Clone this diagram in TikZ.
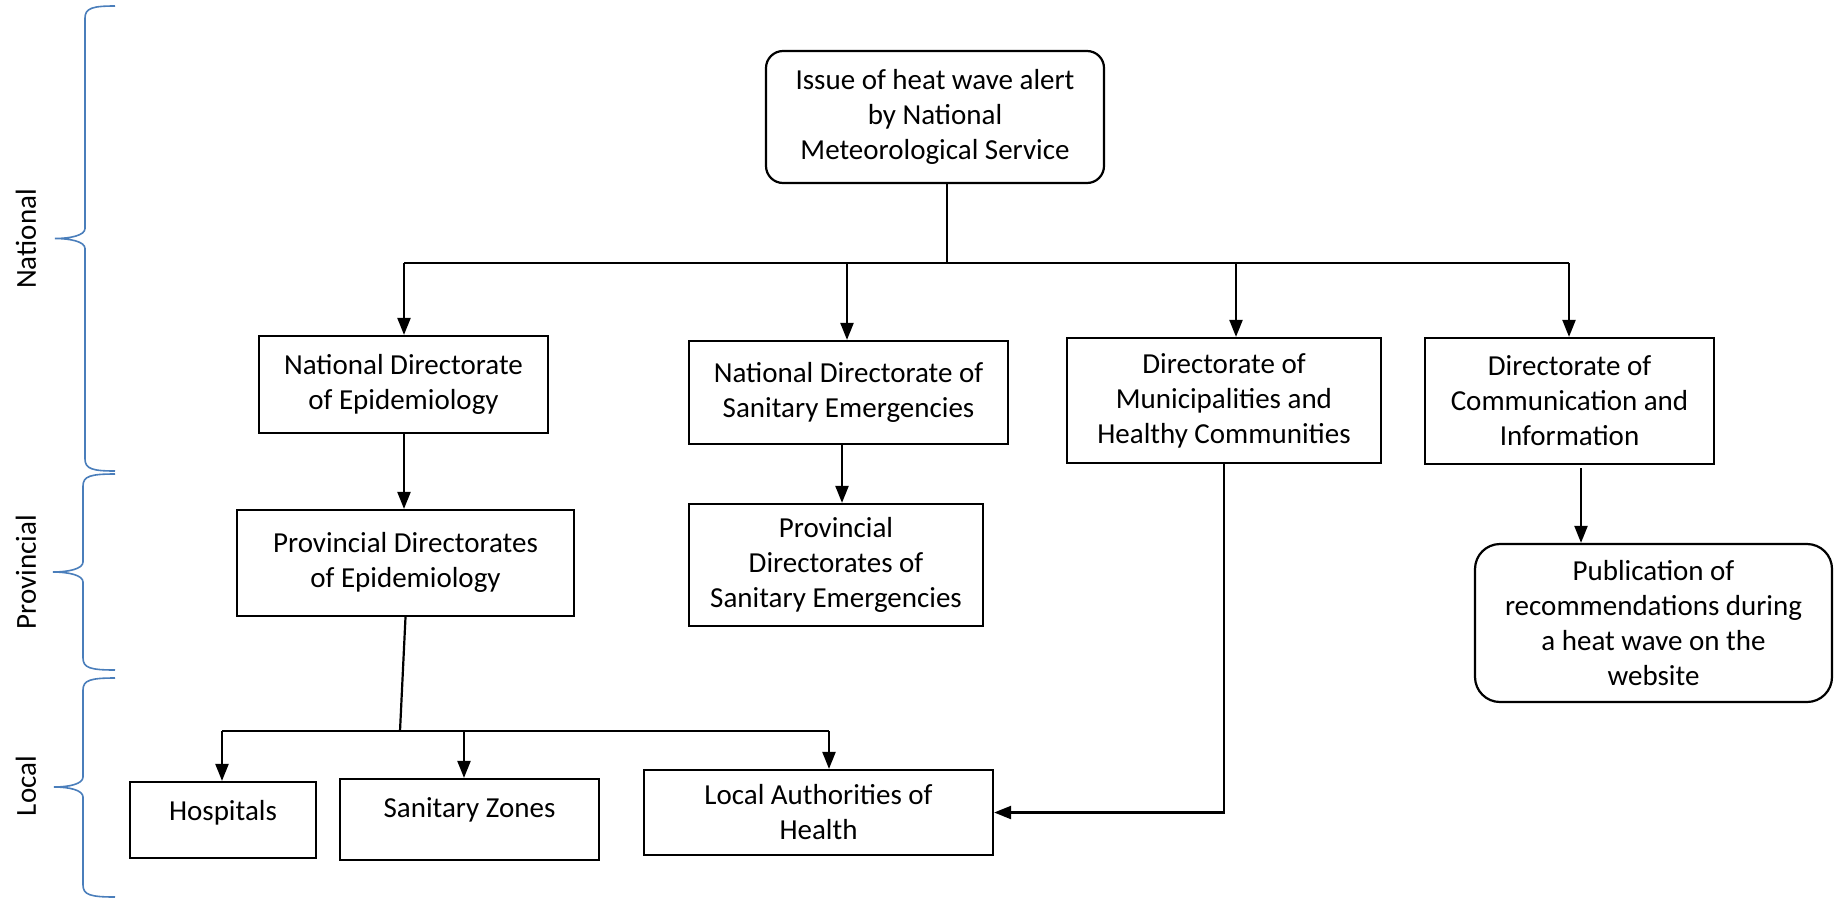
\documentclass[tikz,border=0pt]{standalone}
\usepackage{fontspec}
\setmainfont{Carlito}
\usetikzlibrary{arrows.meta}
\definecolor{braceblue}{RGB}{74,126,187}
\newcommand{\lvlbrace}[5]{%
  \draw[bracepath] (115,#3) .. controls (#1+8,#3) and (#1,#3+2) .. (#1,#3+12)
    -- (#1,#4-10) .. controls (#1,#4-3) and (#2+15,#4) .. (#2,#4)
    .. controls (#2+15,#4) and (#1,#4+3) .. (#1,#4+10)
    -- (#1,#5-12) .. controls (#1,#5-2) and (#1+8,#5) .. (115,#5);}
\begin{document}
\begin{tikzpicture}[x=0.5pt,y=-0.5pt,
  every node/.style={font=\fontsize{14.5}{17.5}\selectfont},
  box/.style={draw, line width=1.1pt, align=center, inner sep=0pt},
  rbox/.style={box, rounded corners=8.5pt},
  conn/.style={line width=1.1pt},
  arr/.style={conn, -{Triangle[length=8.5pt,width=6.5pt]}},
  bracepath/.style={draw=braceblue, line width=0.8pt},
  lvl/.style={rotate=90}]
\useasboundingbox (0,0) rectangle (1835,900);

% level braces and labels
\lvlbrace{85}{55}{6}{238.5}{471}
\lvlbrace{83}{53}{474}{572}{670}
\lvlbrace{83}{54}{678}{787}{897}
\node[lvl] (lnat) at (26,239) {National};
\node[lvl] (lprov) at (26,572) {Provincial};
\node[lvl] (lloc) at (26,786) {Local};

% boxes
\node[rbox, minimum width=169pt, minimum height=66pt] (alert) at (935,117) {Issue of heat wave alert\\by National\\Meteorological Service};
\node[box, minimum width=144.5pt, minimum height=48.5pt] (nde) at (403.5,384.5) {National Directorate\\of Epidemiology};
\node[box, minimum width=159.5pt, minimum height=51.5pt] (ndse) at (848.5,392.5) {National Directorate of\\Sanitary Emergencies};
\node[box, minimum width=157pt, minimum height=62.5pt] (dmhc) at (1224,400.5) {Directorate of\\Municipalities and\\Healthy Communities};
\node[box, minimum width=144.5pt, minimum height=63pt] (dci) at (1569.5,401) {Directorate of\\Communication and\\Information};
\node[box, minimum width=168.5pt, minimum height=53pt] (pde) at (405.5,563) {Provincial Directorates\\of Epidemiology\rule[-3pt]{0pt}{0pt}};
\node[box, minimum width=147pt, minimum height=61pt] (psde) at (836,565) {Provincial\\Directorates of\\Sanitary Emergencies};
\node[rbox, rounded corners=12.5pt, minimum width=178.5pt, minimum height=79pt] (pub) at (1653.5,623) {Publication of\\recommendations during\\a heat wave on the\\website};
\node[box, minimum width=93pt, minimum height=38pt] (hosp) at (223,820) {\raisebox{10pt}{Hospitals}};
\node[box, minimum width=129.5pt, minimum height=40.5pt] (sz) at (469.5,819.5) {\raisebox{11.5pt}{Sanitary Zones}};
\node[box, minimum width=174.5pt, minimum height=42.5pt] (lah) at (818.5,812.5) {Local Authorities of\\Health};

% national distribution
\coordinate (hub) at (947,263);
\coordinate (barL) at (404,263);
\coordinate (barR) at (1569,263);
\coordinate (b2) at (847,263);
\coordinate (b3) at (1236,263);
\draw[conn] (alert.south -| hub) -- (hub);
\draw[conn] (barL) -- (barR);
\draw[arr] (barL) -- (barL |- nde.north);
\draw[arr] (b2) -- (b2 |- ndse.north);
\draw[arr] (b3) -- (b3 |- dmhc.north);
\draw[arr] (barR) -- (barR |- dci.north);

% national -> provincial
\coordinate (c1) at (404,433);
\draw[arr] (c1) -- (c1 |- pde.north);
\coordinate (c2) at (842,444);
\draw[arr] (c2) -- (c2 |- psde.north);
\coordinate (c4) at (1581,468);
\draw[arr] (c4) -- (c4 |- pub.north);

% provincial -> local
\coordinate (lbar) at (400,731);
\coordinate (lL) at (222,731);
\coordinate (lM) at (464,731);
\coordinate (lR) at (829,731);
\draw[conn] (pde.south) -- (lbar);
\draw[conn] (lL) -- (lR);
\draw[arr] (lL) -- (lL |- hosp.north);
\draw[arr] (lM) -- (lM |- sz.north);
\draw[arr] (lR) -- (lR |- lah.north);
\draw[arr] (dmhc.south) |- (lah.east);
\end{tikzpicture}
\end{document}
